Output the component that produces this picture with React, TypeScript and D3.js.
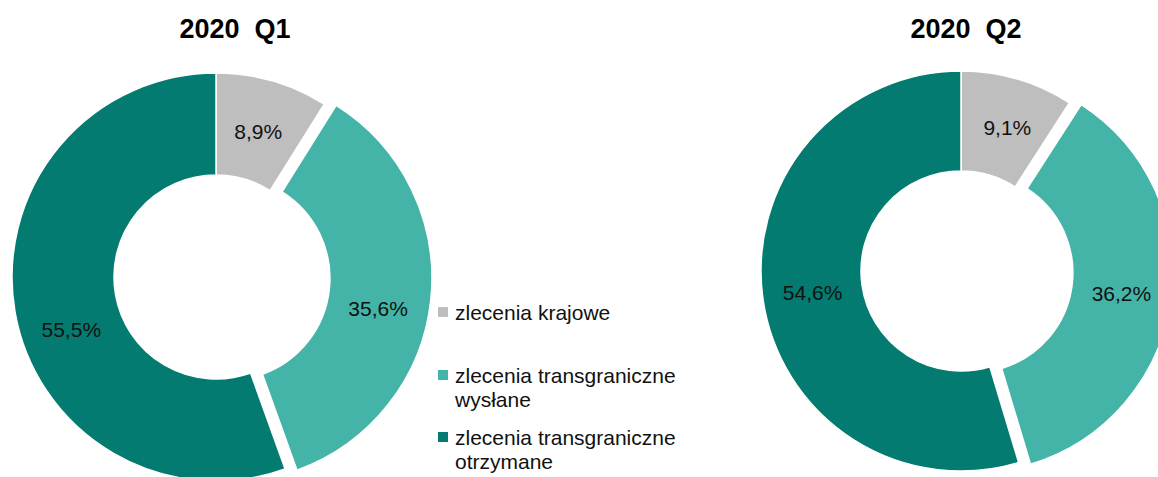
import React from "react";
import * as d3 from "d3";

const categories = [
  "zlecenia krajowe",
  "zlecenia transgraniczne wysłane",
  "zlecenia transgraniczne otrzymane",
];
const legendLines = [
  ["zlecenia krajowe"],
  ["zlecenia transgraniczne", "wysłane"],
  ["zlecenia transgraniczne", "otrzymane"],
];
const titles = ["2020  Q1", "2020  Q2"];
const valuesQ1 = [8.9, 35.6, 55.5];
const valuesQ2 = [9.1, 36.2, 54.6];
const colors = ["#BEBEBE", "#43B4A7", "#037B70"];
const exploded = [false, true, false];

const W = 1158;
const H = 477;
const FONT = "'Liberation Sans', Arial, sans-serif";

type DonutProps = {
  values: number[];
  cx: number;
  cy: number;
  r: number;
  title: string;
  titleX: number;
  nudge: number[][];
};

function Donut({ values, cx, cy, r, title, titleX, nudge }: DonutProps) {
  const pie = d3
    .pie<number>()
    .sort(null)
    .value((d) => d)
    .startAngle(0)
    .endAngle(2 * Math.PI);
  const arcs = pie(values);
  const inner = r * 0.5;
  const arc = d3.arc<d3.PieArcDatum<number>>().innerRadius(inner).outerRadius(r);
  const explode = 12;
  const fmt = (v: number) => v.toFixed(1).replace(".", ",") + "%";
  return (
    <g>
      <text
        x={titleX}
        y={38}
        textAnchor="middle"
        fontFamily={FONT}
        fontWeight="bold"
        fontSize={27}
        fill="#000"
        style={{ whiteSpace: "pre" }}
      >
        {title}
      </text>
      <g transform={`translate(${cx},${cy})`}>
        {arcs.map((a, i) => {
          const mid = (a.startAngle + a.endAngle) / 2;
          const off = exploded[i] ? explode : 0;
          const dx = Math.sin(mid) * off;
          const dy = -Math.cos(mid) * off;
          const [lx, ly] = arc.centroid(a);
          return (
            <g key={i} transform={`translate(${dx},${dy})`}>
              <path d={arc(a) || ""} fill={colors[i]} stroke="#fff" strokeWidth={1.5} />
              <text
                x={lx + nudge[i][0]}
                y={ly + nudge[i][1]}
                textAnchor="middle"
                dominantBaseline="central"
                fontFamily={FONT}
                fontSize={21}
                fill="#111"
              >
                {fmt(values[i])}
              </text>
            </g>
          );
        })}
      </g>
    </g>
  );
}

export default function App() {
  const legendY = [312, 375, 437];
  return (
    <svg
      width={W}
      height={H}
      style={{ position: "absolute", left: 0, top: 0, background: "#fff" }}
    >
      <rect width={W} height={H} fill="#fff" />
      <Donut
        values={valuesQ1}
        cx={216}
        cy={277}
        r={204}
        title={titles[0]}
        titleX={235}
        nudge={[[0, 2], [-2, 14], [6, 26]]}
      />
      <Donut
        values={valuesQ2}
        cx={961}
        cy={271}
        r={200}
        title={titles[1]}
        titleX={966}
        nudge={[[4, 0], [0, 0], [0, 0]]}
      />
      <g>
        {categories.map((c, i) => (
          <g key={c}>
            <rect x={438} y={legendY[i] - 5} width={10} height={10} fill={colors[i]} />
            {legendLines[i].map((line, j) => (
              <text
                key={j}
                x={455}
                y={legendY[i] + j * 24}
                dominantBaseline="central"
                fontFamily={FONT}
                fontSize={21}
                fill="#111"
              >
                {line}
              </text>
            ))}
          </g>
        ))}
      </g>
    </svg>
  );
}
